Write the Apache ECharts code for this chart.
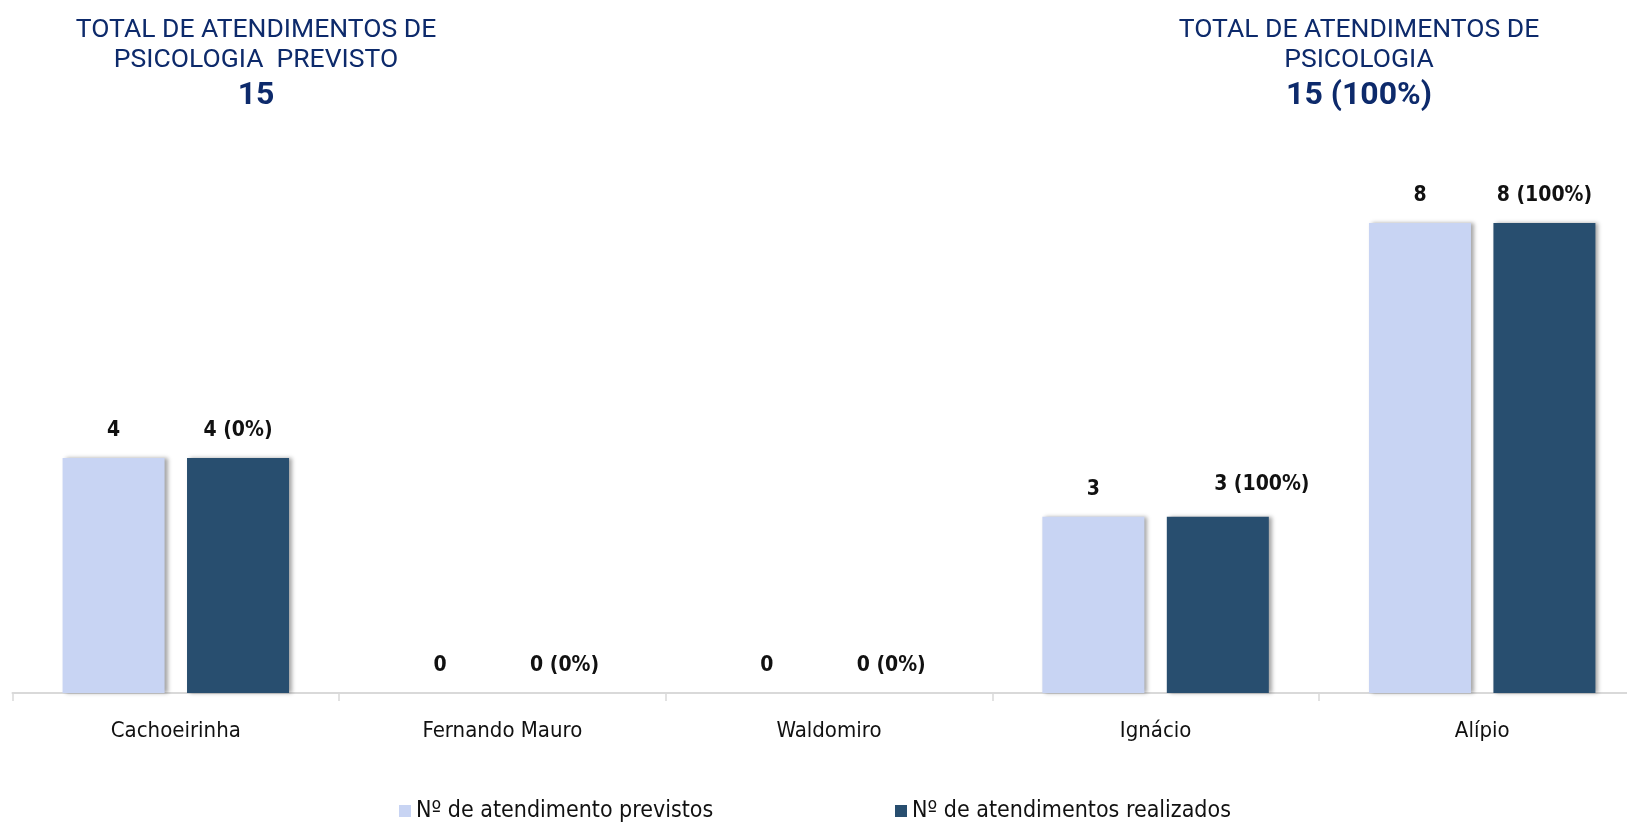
<!DOCTYPE html>
<html>
<head>
<meta charset="utf-8">
<title>Atendimentos de Psicologia</title>
<script src="https://cdn.jsdelivr.net/npm/echarts@6/dist/echarts.min.js"></script>
<style>
  html, body { margin: 0; padding: 0; background: #ffffff; }
  #chart { width: 1627px; height: 823px; }
</style>
</head>
<body>
<div id="chart"></div>
<script>
// Unidades atendidas
const categories = ['Cachoeirinha', 'Fernando Mauro', 'Waldomiro', 'Ignácio', 'Alípio'];
// Nº de atendimentos previstos por unidade
const previstos = [4, 0, 0, 3, 8];
// Nº de atendimentos realizados por unidade
const realizados = [4, 0, 0, 3, 8];
// Percentual informado junto a cada valor realizado
const percentuais = ['0%', '0%', '0%', '100%', '100%'];
const totalPercentual = '100%';

const seriesNames = ['Nº de atendimento previstos', 'Nº de atendimentos realizados'];

const totalPrevisto = previstos.reduce((a, b) => a + b, 0);
const totalRealizado = realizados.reduce((a, b) => a + b, 0);

const NAVY = '#0d2a6b';
const LIGHT = '#c8d4f3';
const DARK = '#284e6f';
const NARROW = "'Liberation Sans Narrow', 'Arial Narrow', 'DejaVu Sans Condensed', sans-serif";

const labelStyle = {
  show: true,
  position: 'top',
  distance: 16,
  fontFamily: NARROW,
  fontWeight: 'bold',
  fontSize: 21,
  lineHeight: 22,
  color: '#111111'
};

const barShadow = {
  shadowColor: 'rgba(0,0,0,0.35)',
  shadowBlur: 4,
  shadowOffsetX: 3,
  shadowOffsetY: 0
};

const titleRich = {
  a: { fontFamily: 'Roboto', fontSize: 26.5, fontWeight: 'normal', lineHeight: 30, color: NAVY, align: 'center' },
  b: { fontFamily: 'Roboto', fontSize: 32, fontWeight: 'bold', lineHeight: 41, color: NAVY, align: 'center' }
};

const legendText = { fontFamily: NARROW, fontSize: 23, lineHeight: 24, color: '#111111' };

const chart = echarts.init(document.getElementById('chart'), null, { renderer: 'canvas' });

chart.setOption({
  animation: false,
  backgroundColor: '#ffffff',
  title: [
    {
      left: 251,
      top: 10,
      textAlign: 'center',
      text: '{a|TOTAL DE ATENDIMENTOS DE}\n{a|PSICOLOGIA  PREVISTO}\n{b|' + totalPrevisto + '}',
      textStyle: { fontWeight: 'normal', rich: titleRich }
    },
    {
      left: 1354,
      top: 10,
      textAlign: 'center',
      text: '{a|TOTAL DE ATENDIMENTOS DE}\n{a|PSICOLOGIA}\n{b|' + totalRealizado + ' (' + totalPercentual + ')}',
      textStyle: { fontWeight: 'normal', rich: titleRich }
    }
  ],
  legend: [
    {
      data: [seriesNames[0]],
      left: 394,
      top: 794,
      icon: 'rect',
      itemWidth: 12,
      itemHeight: 12,
      textStyle: legendText
    },
    {
      data: [seriesNames[1]],
      left: 890,
      top: 794,
      icon: 'rect',
      itemWidth: 12,
      itemHeight: 12,
      textStyle: legendText
    }
  ],
  grid: {
    left: 12.5,
    width: 1633,
    top: 223,
    bottom: 130,
    containLabel: false,
    outerBoundsMode: 'none'
  },
  xAxis: {
    type: 'category',
    data: categories,
    axisLine: { lineStyle: { color: '#d9d9d9', width: 2 } },
    axisTick: { show: true, length: 8, lineStyle: { color: '#d9d9d9', width: 1.5 } },
    axisLabel: {
      margin: 27,
      fontFamily: NARROW,
      fontSize: 22,
      color: '#111111'
    }
  },
  yAxis: {
    type: 'value',
    min: 0,
    max: 8,
    show: false,
    splitLine: { show: false }
  },
  series: [
    {
      name: seriesNames[0],
      type: 'bar',
      barWidth: 102,
      barGap: '22%',
      data: previstos,
      itemStyle: Object.assign({ color: LIGHT }, barShadow),
      label: Object.assign({}, labelStyle, { formatter: p => String(p.value) })
    },
    {
      name: seriesNames[1],
      type: 'bar',
      barWidth: 102,
      barGap: '22%',
      data: realizados.map((v, i) =>
        categories[i] === 'Ignácio'
          ? { value: v, label: { offset: [44, -5] } }
          : v
      ),
      itemStyle: Object.assign({ color: DARK }, barShadow),
      label: Object.assign({}, labelStyle, {
        formatter: p => p.value + ' (' + percentuais[p.dataIndex] + ')'
      })
    }
  ]
});
</script>
</body>
</html>
